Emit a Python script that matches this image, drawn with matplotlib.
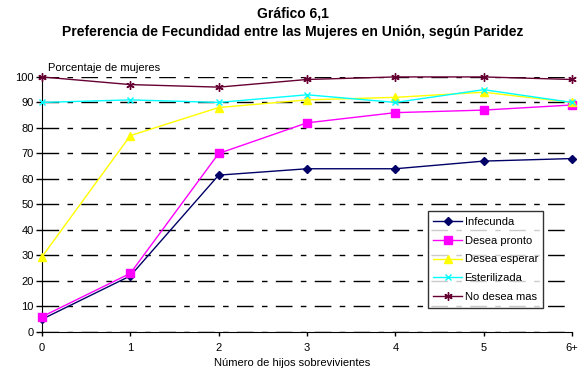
import matplotlib
matplotlib.use("Agg")
import matplotlib.pyplot as plt

plt.rcParams['font.family'] = ['Liberation Sans', 'DejaVu Sans']

categorias = ['0', '1', '2', '3', '4', '5', '6+']
infecunda = [5, 22, 61.5, 64, 64, 67, 68]
desea_pronto = [6, 23, 70, 82, 86, 87, 89]
desea_esperar = [29.5, 77, 88, 91, 92, 94, 90]
esterilizada = [90, 91, 90, 93, 90, 95, 90]
no_desea_mas = [100, 97, 96, 99, 100, 100, 99]

series = [
    ('Infecunda', infecunda, '#000066', 'D', 4),
    ('Desea pronto', desea_pronto, '#ff00ff', 's', 6),
    ('Desea esperar', desea_esperar, '#ffff00', '^', 6),
    ('Esterilizada', esterilizada, '#00ffff', 'x', 5),
    ('No desea mas', no_desea_mas, '#660033', (6, 2, 0), 6),
]

fig = plt.figure(figsize=(5.85, 3.74), dpi=100)
ax = fig.add_axes([0.0718, 0.1123, 0.906, 0.682])

x = list(range(len(categorias)))
for nombre, vals, color, mk, ms in series:
    ax.plot(x, vals, color=color, lw=1, marker=mk, markersize=ms,
            markeredgecolor=color, markerfacecolor=color, label=nombre,
            clip_on=False, zorder=3)

ax.set_xlim(0, 6)
ax.set_ylim(0, 100)
ax.set_xticks(x)
ax.set_xticklabels(categorias, fontsize=8)
ax.set_yticks(range(0, 101, 10))
ax.tick_params(axis='y', labelsize=8, length=4, width=1, pad=2)
ax.tick_params(axis='x', labelsize=8, length=3, width=1, pad=5)
ax.spines['top'].set_visible(False)
ax.spines['right'].set_visible(False)
ax.yaxis.grid(True, color='black', lw=1, dashes=(12, 6, 4, 6))
ax.set_axisbelow(True)

fig.text(0.5, 0.965, 'Gráfico 6,1', ha='center', va='center',
         fontsize=10, fontweight='bold')
fig.text(0.5, 0.914, 'Preferencia de Fecundidad entre las Mujeres en Unión, según Paridez',
         ha='center', va='center', fontsize=10, fontweight='bold')
fig.text(0.082, 0.818, 'Porcentaje de mujeres', ha='left', va='center', fontsize=8)
fig.text(0.5, 0.030, 'Número de hijos sobrevivientes', ha='center', va='center', fontsize=8)

leg = ax.legend(loc='upper left', bbox_to_anchor=(0.728, 0.474), fontsize=8,
                frameon=True, fancybox=False, edgecolor='black',
                handlelength=2.6, borderpad=0.5, labelspacing=0.8,
                handletextpad=0.2, borderaxespad=0)
leg.get_frame().set_linewidth(1)

fig.savefig('out.png', dpi=100)
